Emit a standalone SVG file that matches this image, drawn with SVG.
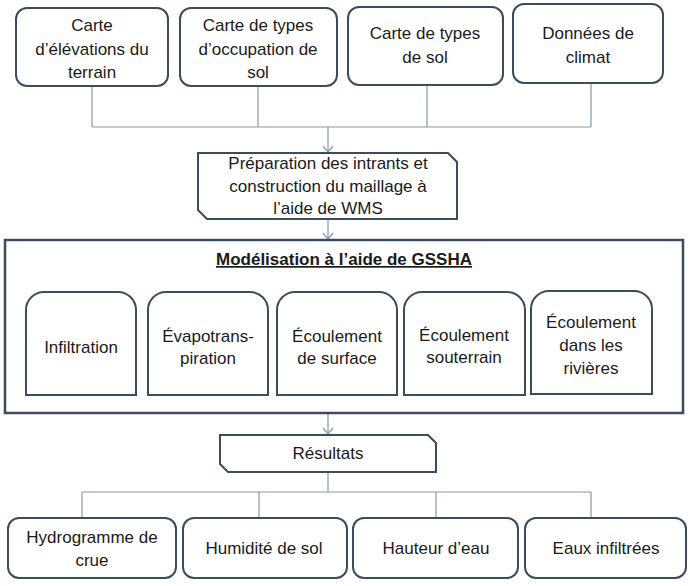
<svg xmlns="http://www.w3.org/2000/svg" width="690" height="586" viewBox="0 0 690 586">
<defs>
<style>
.box{fill:#fff;stroke:#3d4b5e;stroke-width:2}
.big{fill:#fff;stroke:#3d4b5e;stroke-width:2.5}
.t{font-family:"Liberation Sans",Arial,sans-serif;font-size:17px;fill:#1a1a1a;text-anchor:middle}
.title{font-weight:bold;text-decoration:underline}
.c{fill:none;stroke:#8499aa;stroke-width:1.2}
</style>
<marker id="arr" markerUnits="userSpaceOnUse" markerWidth="14" markerHeight="14" refX="7" refY="7" orient="auto" viewBox="0 0 14 14">
<polyline points="1,2 7,7 1,12" fill="none" stroke="#8499aa" stroke-width="1.2"/>
</marker>
</defs>
<rect width="690" height="586" fill="#fff"/>

<g id="connectors">
<path class="c" d="M92,86V127M258,86V127M427,85V127M591,83V127M92,127H591"/>
<path class="c" d="M328,127V152" marker-end="url(#arr)"/>
<path class="c" d="M328,219V239" marker-end="url(#arr)"/>
<path class="c" d="M328,413V434" marker-end="url(#arr)"/>
<path class="c" d="M328,472V492M82,492H591M82,492V518M259,492V518M436,492V518M591,492V518"/>
</g>

<g id="n-elevation">
<rect class="box" x="16" y="8" width="152" height="78" rx="11"/>
<text class="t" x="92" y="31">Carte</text>
<text class="t" x="92" y="55">d’élévations du</text>
<text class="t" x="92" y="78">terrain</text>
</g>
<g id="n-occupation">
<rect class="box" x="180" y="8" width="157" height="78" rx="11"/>
<text class="t" x="258" y="31">Carte de types</text>
<text class="t" x="258" y="55">d’occupation de</text>
<text class="t" x="258" y="78">sol</text>
</g>
<g id="n-sol">
<rect class="box" x="348" y="7" width="155" height="78" rx="11"/>
<text class="t" x="425" y="39">Carte de types</text>
<text class="t" x="425" y="63">de sol</text>
</g>
<g id="n-climat">
<rect class="box" x="513" y="4" width="150" height="79" rx="11"/>
<text class="t" x="588" y="39">Données de</text>
<text class="t" x="588" y="63">climat</text>
</g>

<g id="n-preparation">
<polygon class="box" points="198,153 448,153 457,162 457,219 207,219 198,210"/>
<text class="t" x="328" y="169">Préparation des intrants et</text>
<text class="t" x="328" y="192">construction du maillage à</text>
<text class="t" x="328" y="214">l’aide de WMS</text>
</g>

<g id="n-modelisation">
<rect class="big" x="5" y="240" width="678" height="173"/>
<text class="t title" x="344" y="265">Modélisation à l’aide de GSSHA</text>
</g>

<g id="n-infiltration">
<path class="box" d="M26,395V310A18,18 0 0 1 44,292H118A18,18 0 0 1 136,310V395Z"/>
<text class="t" x="81" y="353">Infiltration</text>
</g>
<g id="n-evapo">
<path class="box" d="M148,395V310A18,18 0 0 1 166,292H250A18,18 0 0 1 268,310V395Z"/>
<text class="t" x="208" y="342">Évapotrans-</text>
<text class="t" x="208" y="364">piration</text>
</g>
<g id="n-surface">
<path class="box" d="M277,395V310A18,18 0 0 1 295,292H379A18,18 0 0 1 397,310V395Z"/>
<text class="t" x="337" y="342">Écoulement</text>
<text class="t" x="337" y="364">de surface</text>
</g>
<g id="n-souterrain">
<path class="box" d="M404,395V310A18,18 0 0 1 422,292H507A18,18 0 0 1 525,310V395Z"/>
<text class="t" x="464" y="341">Écoulement</text>
<text class="t" x="464" y="363">souterrain</text>
</g>
<g id="n-rivieres">
<path class="box" d="M531,394V309A18,18 0 0 1 549,291H634A18,18 0 0 1 652,309V394Z"/>
<text class="t" x="591" y="328">Écoulement</text>
<text class="t" x="591" y="351">dans les</text>
<text class="t" x="591" y="374">rivières</text>
</g>

<g id="n-resultats">
<polygon class="box" points="220,435 428,435 436,443 436,472 228,472 220,464"/>
<text class="t" x="328" y="459">Résultats</text>
</g>

<g id="n-hydrogramme">
<rect class="box" x="8" y="518" width="168" height="60" rx="11"/>
<text class="t" x="92" y="543">Hydrogramme de</text>
<text class="t" x="92" y="566">crue</text>
</g>
<g id="n-humidite">
<rect class="box" x="183" y="518" width="164" height="60" rx="11"/>
<text class="t" x="264" y="554">Humidité de sol</text>
</g>
<g id="n-hauteur">
<rect class="box" x="353" y="518" width="165" height="60" rx="11"/>
<text class="t" x="436" y="554">Hauteur d’eau</text>
</g>
<g id="n-eaux">
<rect class="box" x="525" y="518" width="161" height="60" rx="11"/>
<text class="t" x="606" y="554">Eaux infiltrées</text>
</g>
</svg>
